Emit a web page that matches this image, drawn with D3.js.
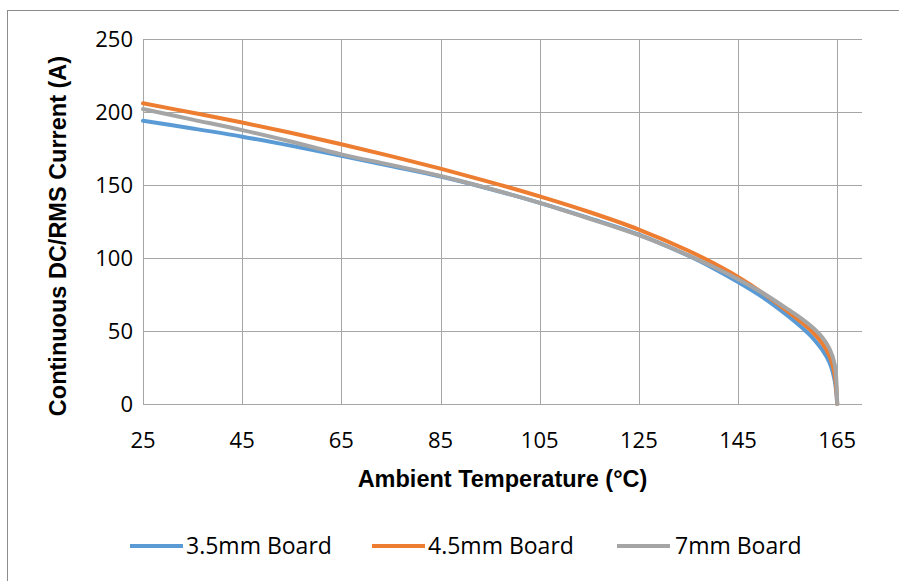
<!DOCTYPE html>
<html>
<head>
<meta charset="utf-8">
<script src="https://cdn.jsdelivr.net/npm/d3@7"></script>
<style>
	body { margin:0; background:#fff; }
	svg { display:block; }
</style>
</head>
<body>
<div id="chart"></div>
<script>
// ambient temperature (°C) sample points
const temps   = [25,35,45,55,65,75,85,95,105,115,125,135,140,145,150,155,158,160,162,163.5,164.5,165]
const board35 = [194,188.7,183.1,176.8,170,163,155.8,147.3,137.8,127.3,116,101.5,93,83.5,73,60.5,52,45.5,37,28,16,0]
const board45 = [206,199.5,192.8,185.6,177.9,169.8,161.2,152,142.2,131.5,119.5,105,96.5,87,76,63.5,55.5,49.5,41.5,32.5,20,0]
const board7  = [202,194.8,187.6,179.6,171,163.8,156.2,147.4,137.8,127,115.6,101.8,94,85.5,76,65,58,52.5,45.5,37.5,27,0]

const seriesNames = ["3.5mm Board","4.5mm Board","7mm Board"]
const seriesColors = ["#5B9BD5","#ED7D31","#A5A5A5"]
const xTicks = [25,45,65,85,105,125,145,165]
const yTicks = [0,50,100,150,200,250]

const W = 899, H = 581
const margin = {left:143, right:37, top:39, bottom:177}

const svg = d3.select("#chart").append("svg").attr("width",W).attr("height",H)

svg.append("rect").attr("x",7.5).attr("y",10.5).attr("width",W).attr("height",H)
	.attr("fill","#fff").attr("stroke","#8c8c8c").attr("stroke-width",1)

const x = d3.scaleLinear().domain([25,170]).range([margin.left, W-margin.right])
const y = d3.scaleLinear().domain([0,250]).range([H-margin.bottom, margin.top])

const tickFont = "'Open Sans', sans-serif"
const titleFont = "'Liberation Sans', Arial, sans-serif"

// grid
svg.append("g").selectAll("line").data(yTicks).join("line")
	.attr("x1",x(25)).attr("x2",x(170))
	.attr("y1",d=>Math.round(y(d))+0.5).attr("y2",d=>Math.round(y(d))+0.5)
	.attr("stroke","#a6a6a6").attr("stroke-width",1)
svg.append("g").selectAll("line").data(xTicks).join("line")
	.attr("x1",d=>Math.round(x(d))+0.5).attr("x2",d=>Math.round(x(d))+0.5)
	.attr("y1",y(0)).attr("y2",y(250))
	.attr("stroke","#a6a6a6").attr("stroke-width",1)

// tick labels
svg.append("g").selectAll("text").data(yTicks).join("text")
	.attr("x",x(25)-10).attr("y",d=>y(d)).attr("dy","0.35em")
	.attr("text-anchor","end").attr("font-family",tickFont).attr("font-size",22)
	.attr("fill","#000").text(d=>d)
svg.append("g").selectAll("text").data(xTicks).join("text")
	.attr("x",d=>x(d)).attr("y",y(0)+44)
	.attr("text-anchor","middle").attr("font-family",tickFont).attr("font-size",22)
	.attr("fill","#000").text(d=>d)

// axis titles
svg.append("text").attr("x",x(97.5)).attr("y",487)
	.attr("text-anchor","middle").attr("font-family",titleFont).attr("font-weight","bold")
	.attr("font-size",23.5).text("Ambient Temperature (°C)")
svg.append("text").attr("transform","translate(66,236) rotate(-90)")
	.attr("text-anchor","middle").attr("font-family",titleFont).attr("font-weight","bold")
	.attr("font-size",23.5).text("Continuous DC/RMS Current (A)")

// lines
const allSeries = [board35, board45, board7]
const line = d3.line().x((d,i)=>x(temps[i])).y(d=>y(d)).curve(d3.curveCatmullRom.alpha(0.5))
svg.append("g").selectAll("path").data(allSeries).join("path")
	.attr("d",line).attr("fill","none")
	.attr("stroke",(d,i)=>seriesColors[i]).attr("stroke-width",4)
	.attr("stroke-linejoin","round").attr("stroke-linecap","round")

// legend
const legendX = [130,372,617]
const legend = svg.append("g").selectAll("g").data(seriesNames).join("g")
	.attr("transform",(d,i)=>"translate("+legendX[i]+",546)")
legend.append("line").attr("x1",0).attr("x2",53).attr("y1",0).attr("y2",0)
	.attr("stroke",(d,i)=>seriesColors[i]).attr("stroke-width",4)
legend.append("text").attr("x",(d,i)=>i==2?58:56).attr("y",0).attr("dy","0.35em")
	.attr("font-family",tickFont).attr("font-size",23).attr("fill","#000").text(d=>d)
</script>
</body>
</html>
